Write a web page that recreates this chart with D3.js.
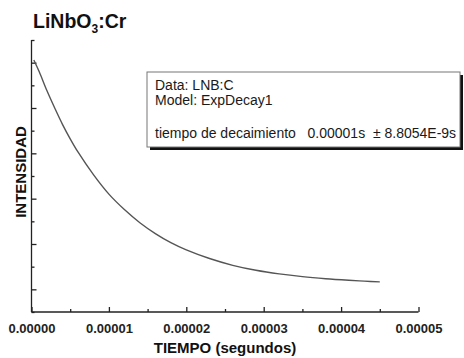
<!DOCTYPE html>
<html><head><meta charset="utf-8">
<script src="https://cdn.jsdelivr.net/npm/d3@7/dist/d3.min.js"></script>
<style>
html,body{margin:0;padding:0;background:#fff;}
svg{display:block;font-family:"Liberation Sans",Arial,sans-serif;}
</style></head>
<body>
<svg id="c" width="464" height="358"></svg>
<script>
// Time (microseconds) and relative intensity
const timeUs = [0.3, 1, 2, 3, 4, 5, 6, 8, 10, 12, 14, 16, 18, 20, 23, 26, 29, 32, 35, 38, 41, 43, 45];
const intensity = [5.06, 4.80, 4.38, 4.00, 3.64, 3.32, 3.03, 2.53, 2.10, 1.76, 1.47, 1.23, 1.03, 0.87, 0.68, 0.53, 0.42, 0.34, 0.28, 0.235, 0.20, 0.18, 0.165];
const xTickValues = [0, 0.00001, 0.00002, 0.00003, 0.00004, 0.00005];
const xTickLabels = ["0.00000", "0.00001", "0.00002", "0.00003", "0.00004", "0.00005"];
const xMinorValues = [0.000005, 0.000015, 0.000025, 0.000035, 0.000045];
const yMajorValues = [0, 1, 2, 3, 4, 5];
const yMinorValues = [-0.5, 0.5, 1.5, 2.5, 3.5, 4.5, 5.5];
const legendLines = ["Data: LNB:C", "Model: ExpDecay1"];
const fitText = "tiempo de decaimiento   0.00001s  \u00b1 8.8054E-9s";

const svg = d3.select("#c");
const L = 31.5, R = 418.5, T = 40, B = 312;
const x = d3.scaleLinear().domain([0, 0.00005]).range([L, R]);
const y = d3.scaleLinear().domain([-0.5, 5.5]).range([B, T]);

// title
const title = svg.append("text").attr("x", 33).attr("y", 28)
  .attr("font-size", 19.5).attr("font-weight", "bold").attr("fill", "#111");
title.append("tspan").text("LiNbO");
title.append("tspan").attr("font-size", 12).attr("dy", 5).text("3");
title.append("tspan").attr("dy", -5).text(":Cr");

// x axis
const gx = svg.append("g").attr("transform", `translate(0,${B})`);
gx.call(d3.axisBottom(x).tickValues(xTickValues).tickSize(-5).tickPadding(12)
  .tickFormat((d, i) => xTickLabels[i]));
gx.append("g").call(d3.axisBottom(x).tickValues(xMinorValues).tickSize(-3).tickFormat(""))
  .select(".domain").remove();
gx.selectAll(".domain").attr("d", `M${L},0H${R}`);
gx.selectAll("path,line").attr("stroke", "#222").attr("stroke-width", 1.3);
gx.selectAll("text").attr("font-size", 13).attr("font-weight", "bold").attr("fill", "#222")
  .attr("font-family", "Liberation Sans, Arial, sans-serif");

// y axis
const gy = svg.append("g").attr("transform", `translate(${L},0)`);
gy.call(d3.axisLeft(y).tickValues(yMajorValues).tickSize(-5).tickFormat(""));
gy.append("g").call(d3.axisLeft(y).tickValues(yMinorValues).tickSize(-3).tickFormat(""))
  .select(".domain").remove();
gy.selectAll(".domain").attr("d", `M0,${T}V${B}`);
gy.selectAll("path,line").attr("stroke", "#222").attr("stroke-width", 1.3);

// axis titles
svg.append("text").attr("x", (L + R) / 2).attr("y", 353).attr("text-anchor", "middle")
  .attr("font-size", 15).attr("font-weight", "bold").attr("fill", "#111").text("TIEMPO (segundos)");
svg.append("text").attr("transform", `translate(26,${(T + B) / 2 - 4}) rotate(-90)`)
  .attr("text-anchor", "middle").attr("font-size", 15).attr("font-weight", "bold")
  .attr("fill", "#111").text("INTENSIDAD");

// curve
const pts = timeUs.map((t, i) => [t * 1e-6, intensity[i]]);
const line = d3.line().x(d => x(d[0])).y(d => y(d[1])).curve(d3.curveCatmullRom.alpha(0.5));
svg.append("path").datum(pts).attr("d", line).attr("fill", "none")
  .attr("stroke", "#555").attr("stroke-width", 1.4);

// legend box
const bx = 147, by = 72, bw = 313, bh = 75;
svg.append("rect").attr("x", bx + 3).attr("y", by + 3).attr("width", bw).attr("height", bh).attr("fill", "#111");
svg.append("rect").attr("x", bx).attr("y", by).attr("width", bw).attr("height", bh)
  .attr("fill", "#fff").attr("stroke", "#777").attr("stroke-width", 1);
legendLines.forEach((s, i) => {
  svg.append("text").attr("x", 155).attr("y", 90 + i * 14.5).attr("font-size", 14)
    .attr("fill", "#1a1a1a").text(s);
});
svg.append("text").attr("x", 155).attr("y", 138).attr("font-size", 14)
  .attr("fill", "#1a1a1a").attr("xml:space", "preserve").style("white-space", "pre").text(fitText);
</script>
</body></html>
